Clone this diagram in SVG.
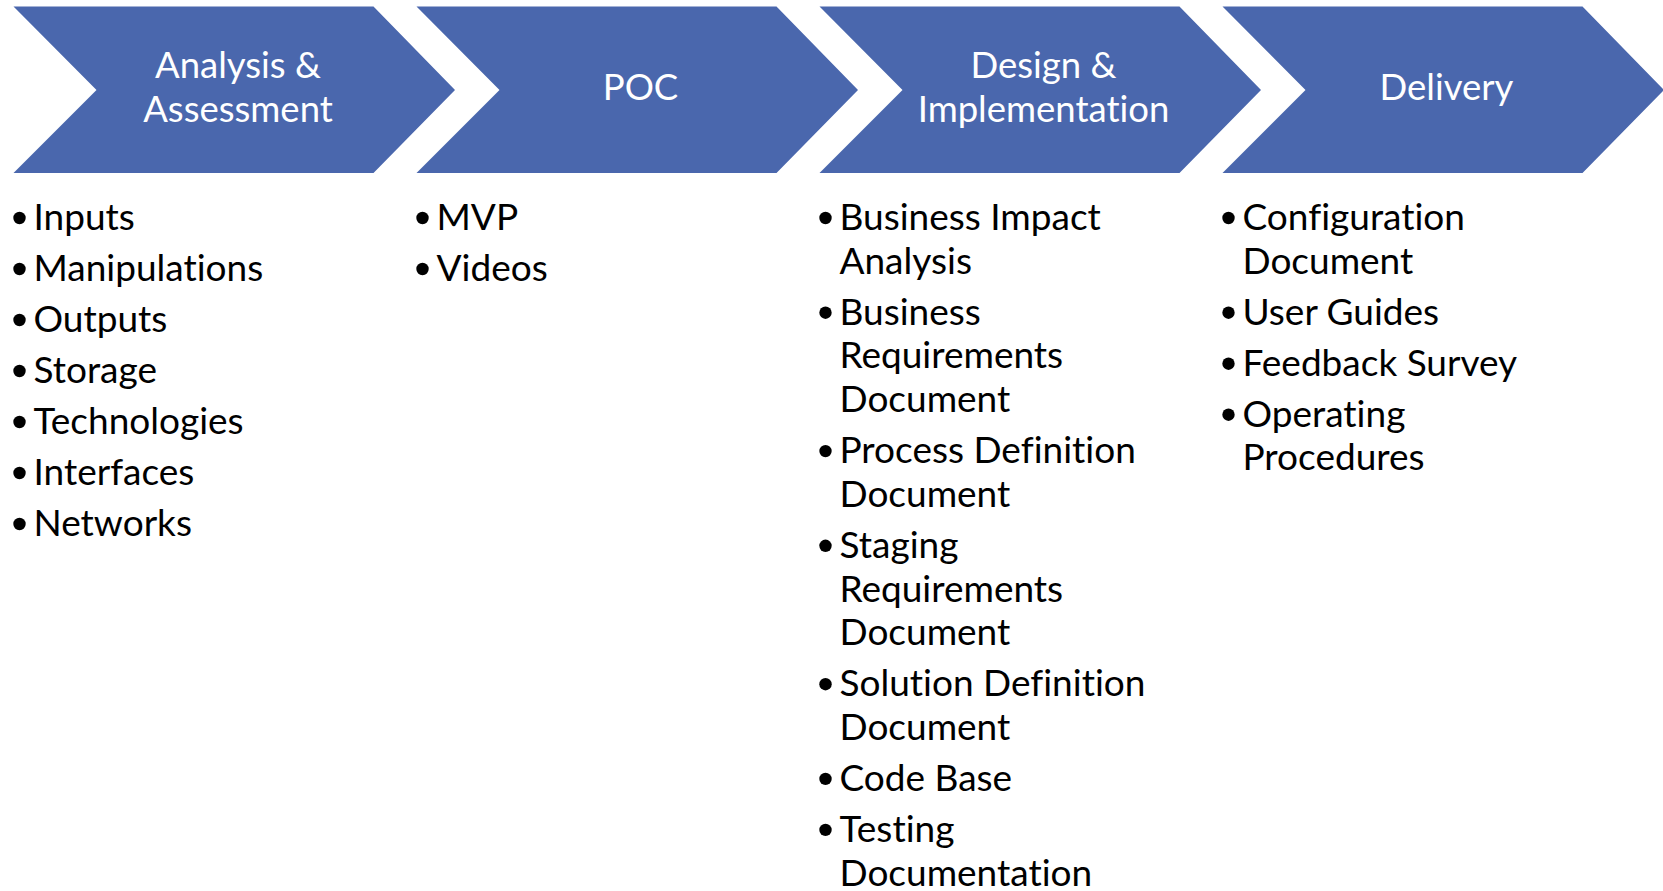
<svg xmlns="http://www.w3.org/2000/svg" width="1663" height="891" viewBox="0 0 1663 891">
<style>
.chev{fill:#4A67AD;stroke:none}
.hd{font-family:Lato,"Liberation Sans",sans-serif;font-size:36.5px;fill:#FFFFFF;text-anchor:middle;font-variant-ligatures:none}
.it{font-family:Lato,"Liberation Sans",sans-serif;font-size:37px;fill:#000000;font-variant-ligatures:none}
.bl{fill:#000000}
</style>
<defs>
<polygon id="chevShape" points="0,6.5 360,6.5 441.5,90 360,173 0,173 83,90"/>
</defs>
<rect width="1663" height="891" fill="#FFFFFF"/>
<g id="connectors"/>
<g id="stage-analysis">
<use href="#chevShape" class="chev" x="13.5"/>
<text class="hd" x="238" y="78.3">Analysis &amp;</text>
<text class="hd" x="238" y="121.7">Assessment</text>
</g>
<g id="stage-poc">
<use href="#chevShape" class="chev" x="416.5"/>
<text class="hd" x="640.5" y="100">POC</text>
</g>
<g id="stage-design">
<use href="#chevShape" class="chev" x="819.5"/>
<text class="hd" x="1043.5" y="78.3">Design &amp;</text>
<text class="hd" x="1043.5" y="121.7">Implementation</text>
</g>
<g id="stage-delivery">
<use href="#chevShape" class="chev" x="1222.5"/>
<text class="hd" x="1446.5" y="100">Delivery</text>
</g>
<g id="list-analysis">
<circle class="bl" cx="19.5" cy="218" r="6.2"/><text class="it" x="33.5" y="230">Inputs</text>
<circle class="bl" cx="19.5" cy="269" r="6.2"/><text class="it" x="33.5" y="281">Manipulations</text>
<circle class="bl" cx="19.5" cy="320" r="6.2"/><text class="it" x="33.5" y="332">Outputs</text>
<circle class="bl" cx="19.5" cy="371" r="6.2"/><text class="it" x="33.5" y="383">Storage</text>
<circle class="bl" cx="19.5" cy="422" r="6.2"/><text class="it" x="33.5" y="434">Technologies</text>
<circle class="bl" cx="19.5" cy="473" r="6.2"/><text class="it" x="33.5" y="485">Interfaces</text>
<circle class="bl" cx="19.5" cy="524" r="6.2"/><text class="it" x="33.5" y="536">Networks</text>
</g>
<g id="list-poc">
<circle class="bl" cx="422.5" cy="218" r="6.2"/><text class="it" x="436.5" y="230">MVP</text>
<circle class="bl" cx="422.5" cy="269" r="6.2"/><text class="it" x="436.5" y="281">Videos</text>
</g>
<g id="list-design">
<circle class="bl" cx="825.5" cy="218" r="6.2"/><text class="it" x="839.5" y="230">Business Impact<tspan x="839.5" y="273.7">Analysis</tspan></text>
<circle class="bl" cx="825.5" cy="312.7" r="6.2"/><text class="it" x="839.5" y="324.7">Business<tspan x="839.5" y="368.4">Requirements</tspan><tspan x="839.5" y="412.1">Document</tspan></text>
<circle class="bl" cx="825.5" cy="451.1" r="6.2"/><text class="it" x="839.5" y="463.1">Process Definition<tspan x="839.5" y="506.8">Document</tspan></text>
<circle class="bl" cx="825.5" cy="545.8" r="6.2"/><text class="it" x="839.5" y="557.8">Staging<tspan x="839.5" y="601.5">Requirements</tspan><tspan x="839.5" y="645.2">Document</tspan></text>
<circle class="bl" cx="825.5" cy="684.2" r="6.2"/><text class="it" x="839.5" y="696.2">Solution Definition<tspan x="839.5" y="739.9">Document</tspan></text>
<circle class="bl" cx="825.5" cy="778.9" r="6.2"/><text class="it" x="839.5" y="790.9">Code Base</text>
<circle class="bl" cx="825.5" cy="829.9" r="6.2"/><text class="it" x="839.5" y="841.9">Testing<tspan x="839.5" y="885.6">Documentation</tspan></text>
</g>
<g id="list-delivery">
<circle class="bl" cx="1228.5" cy="218" r="6.2"/><text class="it" x="1242.5" y="230">Configuration<tspan x="1242.5" y="273.7">Document</tspan></text>
<circle class="bl" cx="1228.5" cy="312.7" r="6.2"/><text class="it" x="1242.5" y="324.7">User Guides</text>
<circle class="bl" cx="1228.5" cy="363.7" r="6.2"/><text class="it" x="1242.5" y="375.7">Feedback Survey</text>
<circle class="bl" cx="1228.5" cy="414.7" r="6.2"/><text class="it" x="1242.5" y="426.7">Operating<tspan x="1242.5" y="470.4">Procedures</tspan></text>
</g>
</svg>
